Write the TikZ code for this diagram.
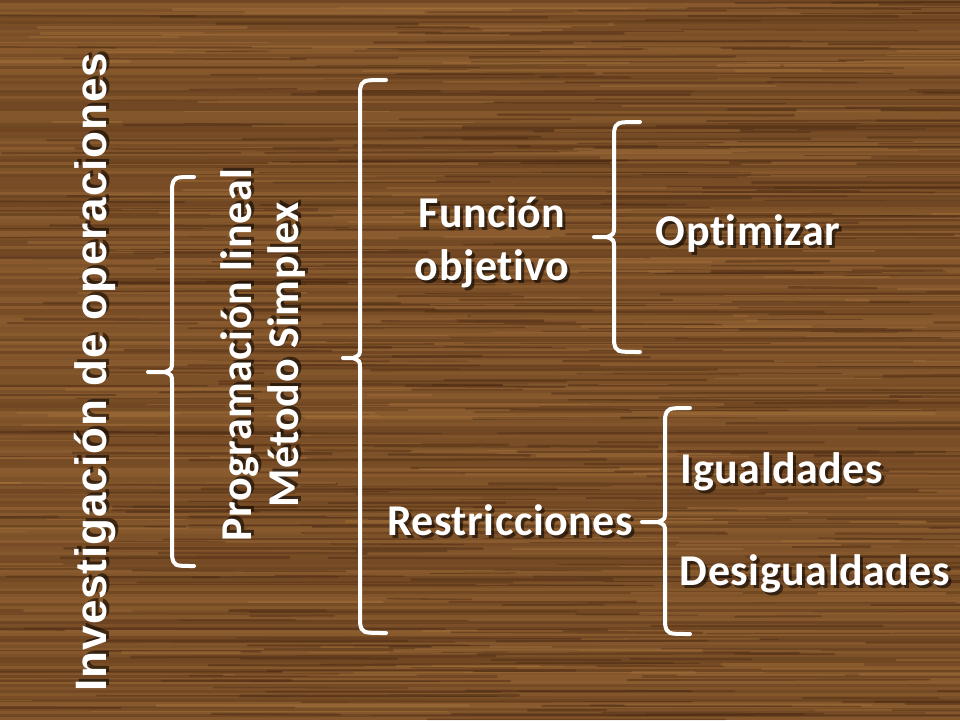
\documentclass[tikz,border=0pt]{standalone}
\usepackage{fontspec}
\newfontfamily\calib[LetterSpace=1.2,Ligatures=NoCommon]{Carlito}
\newfontfamily\arialf[LetterSpace=2]{Liberation Sans}
\definecolor{woodL}{HTML}{A8743C}
\definecolor{woodM}{HTML}{80532A}
\definecolor{woodD}{HTML}{4A2912}
\tikzset{
  bracestyle/.style={draw=white, line width=4pt, line cap=round, line join=round},
  txt/.style={text=white, inner sep=0pt, font=\calib\bfseries\fontsize{44}{53}\selectfont, align=center},
  shd/.style={text=black, opacity=0.55, inner sep=0pt, font=\calib\bfseries\fontsize{44}{53}\selectfont, align=center},
}
\begin{document}
\begin{tikzpicture}[x=1pt,y=-1pt]
\useasboundingbox (0,0) rectangle (960,720);
% background wood
\fill[woodM] (0,0) rectangle (960,720);
\pgfmathsetseed{7}
\foreach \i in {0,...,239}{
  \pgfmathtruncatemacro\pct{20+60*rnd}
  \pgfmathsetmacro\yy{\i*3}
  \fill[woodD!\pct!woodL, opacity=0.5] (0,\yy) rectangle (960,\yy+3);
}
\foreach \j in {1,...,420}{
  \pgfmathsetmacro\xa{rnd*1000-60}
  \pgfmathsetmacro\ya{rnd*720}
  \pgfmathsetmacro\ln{80+rnd*350}
  \pgfmathsetmacro\lw{0.8+rnd*2}
  \draw[woodD, opacity=0.45, line width=\lw pt, line cap=round] (\xa,\ya) -- (\xa+\ln,\ya+rnd*2-1);
}
\foreach \j in {1,...,180}{
  \pgfmathsetmacro\xa{rnd*1000-60}
  \pgfmathsetmacro\ya{rnd*720}
  \pgfmathsetmacro\ln{60+rnd*300}
  \pgfmathsetmacro\lw{0.8+rnd*2}
  \draw[woodL, opacity=0.4, line width=\lw pt, line cap=round] (\xa,\ya) -- (\xa+\ln,\ya);
}

% ---- texts ----
\node[shd, font=\arialf\bfseries\fontsize{44}{53}\selectfont, rotate=90] at (98,369) {Investigación de operaciones};
\node[txt, font=\arialf\bfseries\fontsize{44}{53}\selectfont, rotate=90] (inv) at (95,372) {Investigación de operaciones};

\node[shd, rotate=90, font=\calib\bfseries\fontsize{44}{47}\selectfont] at (266,352) {Programación lineal\\Método Simplex};
\node[txt, rotate=90, font=\calib\bfseries\fontsize{44}{47}\selectfont] (prog) at (263,355) {Programación lineal\\Método Simplex};

\node[shd] at (495,245) {Función\\objetivo};
\node[txt] (fo) at (492,242) {Función\\objetivo};

\node[shd] at (751,237) {Optimizar};
\node[txt] (opt) at (748,234) {Optimizar};

\node[shd] at (513,523) {Restricciones};
\node[txt] (res) at (510,520) {Restricciones};

\node[shd] at (785,475) {Igualdades};
\node[txt] (igu) at (782,472) {Igualdades};

\node[shd] at (818,577) {Desigualdades};
\node[txt] (des) at (815,574) {Desigualdades};

% ---- braces ----
% brace 1
\coordinate (b1) at (148,372);
\draw[bracestyle] (194,177) .. controls (174,177) .. (172,187) -- (172,362)
   .. controls (172,369) .. (165,372) -- (b1);
\draw[bracestyle] (172,382) .. controls (172,375) .. (165,372);
\draw[bracestyle] (172,382) -- (172,556) .. controls (174,566) .. (194,566);
% brace 2
\coordinate (b2) at (343,358);
\draw[bracestyle] (386,80) .. controls (362,80) .. (360,90) -- (360,348)
   .. controls (360,355) .. (353,358) -- (b2);
\draw[bracestyle] (360,368) .. controls (360,361) .. (353,358);
\draw[bracestyle] (360,368) -- (360,623) .. controls (362,633) .. (386,633);
% brace 3
\coordinate (b3) at (594,237);
\draw[bracestyle] (640,122) .. controls (616,122) .. (614,132) -- (614,227)
   .. controls (614,234) .. (607,237) -- (b3);
\draw[bracestyle] (614,247) .. controls (614,240) .. (607,237);
\draw[bracestyle] (614,247) -- (614,342) .. controls (616,352) .. (640,352);
% brace 4
\coordinate (b4) at (642,522);
\draw[bracestyle] (690,408) .. controls (667,408) .. (665,418) -- (665,512)
   .. controls (665,519) .. (658,522) -- (b4);
\draw[bracestyle] (665,532) .. controls (665,525) .. (658,522);
\draw[bracestyle] (665,532) -- (665,624) .. controls (667,634) .. (690,634);
\end{tikzpicture}
\end{document}
